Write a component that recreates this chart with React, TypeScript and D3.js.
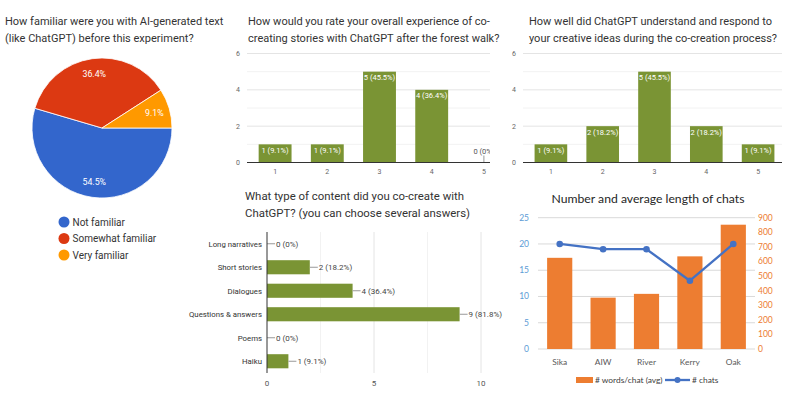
import React from 'react';
import * as d3 from 'd3';

const familiarityLabels = ['Not familiar', 'Somewhat familiar', 'Very familiar'];
const familiarityValues = [6, 4, 1];
const familiarityColors = ['#3366cc', '#dc3912', '#ff9900'];

const ratingCategories = ['1', '2', '3', '4', '5'];
const experienceValues = [1, 1, 5, 4, 0];
const understandingValues = [1, 2, 5, 2, 1];
const ratingTicks = [0, 2, 4, 6];

const contentCategories = ['Long narratives', 'Short stories', 'Dialogues', 'Questions & answers', 'Poems', 'Haiku'];
const contentValues = [0, 2, 4, 9, 0, 1];
const contentTicks = [0, 5, 10];

const respondents = 11;

const chatNames = ['Sika', 'AIW', 'River', 'Kerry', 'Oak'];
const wordsPerChat = [625, 352, 378, 635, 852];
const chatCounts = [20, 19, 19, 13, 20];
const chatCountTicks = [0, 5, 10, 15, 20, 25];
const wordTicks = [0, 100, 200, 300, 400, 500, 600, 700, 800, 900];

const GREEN = '#7a9434';
const GF = 'Roboto, Arial, sans-serif';
const XL = 'Lato, "Open Sans", sans-serif';

const pct = (v: number) => {
  const p = (v / respondents) * 100;
  return v === 0 ? '0%' : `${p.toFixed(1)}%`;
};

function PieChart() {
  const cx = 102, cy = 128, r = 70;
  const pie = d3.pie<number>().sort(null).startAngle(Math.PI / 2).endAngle(Math.PI / 2 + 2 * Math.PI);
  const arcs = pie(familiarityValues);
  const arc = d3.arc<d3.PieArcDatum<number>>().innerRadius(0).outerRadius(r);
  const total = d3.sum(familiarityValues);
  return (
    <g>
      <text x={5} y={25} fontFamily={GF} fontSize={11} fill="#333">How familiar were you with AI-generated text</text>
      <text x={5} y={42} fontFamily={GF} fontSize={11} fill="#333">(like ChatGPT) before this experiment?</text>
      <g transform={`translate(${cx},${cy})`}>
        {arcs.map((a, i) => (
          <path key={i} d={arc(a) || ''} fill={familiarityColors[i]} stroke="#fff" strokeWidth={0.8} />
        ))}
        {arcs.map((a, i) => {
          const mid = (a.startAngle + a.endAngle) / 2;
          const rr = r * 0.78;
          const x = Math.sin(mid) * rr;
          const y = -Math.cos(mid) * rr;
          return (
            <text key={i} x={x} y={y + 3} textAnchor="middle" fontFamily={GF} fontSize={8.8} fill="#fff">
              {`${((a.value / total) * 100).toFixed(1)}%`}
            </text>
          );
        })}
      </g>
      {familiarityLabels.map((l, i) => (
        <g key={l}>
          <circle cx={64} cy={222 + i * 16.5} r={5.5} fill={familiarityColors[i]} />
          <text x={72.5} y={225.5 + i * 16.5} fontFamily={GF} fontSize={10} fill="#333">{l}</text>
        </g>
      ))}
    </g>
  );
}

function VBar(props: {
  id: string; title: string[]; titleX: number; values: number[];
  left: number; right: number; bandStart: number; bandEnd: number; clipRight: number;
}) {
  const { id, title, titleX, values, left, right, bandStart, bandEnd, clipRight } = props;
  const y = d3.scaleLinear().domain([0, 6]).range([162.5, 53.5]);
  const x = d3.scaleBand().domain(ratingCategories).range([bandStart, bandEnd]).paddingInner(0.37).paddingOuter(0.185);
  const minor = [1, 3, 5];
  return (
    <g>
      <defs>
        <clipPath id={id}><rect x={left - 30} y={40} width={clipRight - left + 30} height={140} /></clipPath>
      </defs>
      {title.map((t, i) => (
        <text key={i} x={titleX} y={25 + i * 17} fontFamily={GF} fontSize={11} fill="#333">{t}</text>
      ))}
      <g clipPath={`url(#${id})`}>
        {minor.map(t => (
          <line key={'m' + t} x1={left} x2={right} y1={y(t)} y2={y(t)} stroke="#f2f2f2" />
        ))}
        {ratingTicks.filter(t => t > 0).map(t => (
          <line key={t} x1={left} x2={right} y1={y(t)} y2={y(t)} stroke="#e4e4e4" />
        ))}
        {ratingTicks.map(t => (
          <text key={'l' + t} x={left - 7} y={y(t) + 2.5} textAnchor="end" fontFamily={GF} fontSize={7} fill="#666">{t}</text>
        ))}
        {values.map((v, i) => {
          const c = ratingCategories[i];
          const bx = x(c)!;
          const bw = x.bandwidth();
          if (v === 0) {
            const mx = bx + bw / 2;
            return (
              <g key={c}>
                <line x1={mx} x2={mx} y1={y(0)} y2={y(0) - 7} stroke="#999" />
                <text x={mx} y={y(0) - 8.5} textAnchor="middle" fontFamily={GF} fontSize={7.5} fill="#555">{`0 (${pct(0)})`}</text>
              </g>
            );
          }
          return (
            <g key={c}>
              <rect x={bx} y={y(v)} width={bw} height={y(0) - y(v)} fill={GREEN} />
              <text x={bx + bw / 2} y={y(v) + 8.5} textAnchor="middle" fontFamily={GF} fontSize={7.5} fill="#fff">{`${v} (${pct(v)})`}</text>
            </g>
          );
        })}
        <line x1={left} x2={right} y1={y(0)} y2={y(0)} stroke="#333" strokeWidth={1} />
        {ratingCategories.map(c => (
          <text key={'x' + c} x={x(c)! + x.bandwidth() / 2} y={174} textAnchor="middle" fontFamily={GF} fontSize={7} fill="#666">{c}</text>
        ))}
      </g>
    </g>
  );
}

function HBar() {
  const x = d3.scaleLinear().domain([0, 10]).range([267, 481]);
  const y = d3.scaleBand().domain(contentCategories).range([232, 373]).paddingInner(0.4).paddingOuter(0.2);
  const grid = [2.5, 5, 7.5, 10];
  return (
    <g>
      <text x={245} y={200} fontFamily={GF} fontSize={11.4} fill="#333">What type of content did you co-create with</text>
      <text x={245} y={217} fontFamily={GF} fontSize={11.4} fill="#333">ChatGPT? (you can choose several answers)</text>
      {grid.map(g => (
        <line key={g} x1={x(g)} x2={x(g)} y1={232} y2={373} stroke={g === 5 || g === 10 ? '#e4e4e4' : '#f2f2f2'} />
      ))}
      {contentCategories.map((c, i) => {
        const v = contentValues[i];
        const by = y(c)!;
        const bh = y.bandwidth();
        const end = x(v);
        const my = by + bh / 2;
        return (
          <g key={c}>
            <text x={262} y={my + 3} textAnchor="end" fontFamily={GF} fontSize={7.8} fill="#333">{c}</text>
            {v > 0 && <rect x={x(0)} y={by} width={end - x(0)} height={bh} fill={GREEN} />}
            <line x1={end} x2={end + 8} y1={my} y2={my} stroke="#999" />
            <text x={end + 9} y={my + 3} fontFamily={GF} fontSize={8} fill="#444">{`${v} (${pct(v)})`}</text>
          </g>
        );
      })}
      <line x1={x(0)} x2={x(0)} y1={232} y2={373} stroke="#333" />
      {contentTicks.map(t => (
        <text key={t} x={x(t)} y={386} textAnchor="middle" fontFamily={GF} fontSize={8} fill="#555">{t}</text>
      ))}
    </g>
  );
}

function Combo() {
  const x = d3.scaleBand().domain(chatNames).range([538, 755]).paddingInner(0.42).paddingOuter(0.21);
  const yL = d3.scaleLinear().domain([0, 25]).range([349, 217.7]);
  const yR = d3.scaleLinear().domain([0, 900]).range([349, 217.7]);
  const line = d3.line<number>().x((_, i) => x(chatNames[i])! + x.bandwidth() / 2).y(d => yL(d));
  return (
    <g>
      <text x={648} y={203} textAnchor="middle" fontFamily={XL} fontSize={12.2} fill="#262626">Number and average length of chats</text>
      {chatCountTicks.map(t => (
        <g key={t}>
          <line x1={538} x2={755} y1={yL(t)} y2={yL(t)} stroke="#d9d9d9" />
          <text x={529} y={yL(t) + 3} textAnchor="end" fontFamily={XL} fontSize={8.5} fill="#5b9bd5">{t}</text>
        </g>
      ))}
      {wordTicks.map(t => (
        <text key={t} x={758} y={yR(t) + 3} fontFamily={XL} fontSize={8.5} fill="#ed7d31">{t}</text>
      ))}
      {chatNames.map((n, i) => (
        <rect key={n} x={x(n)!} y={yR(wordsPerChat[i])} width={x.bandwidth()} height={yR(0) - yR(wordsPerChat[i])} fill="#ed7d31" />
      ))}
      <path d={line(chatCounts) || ''} fill="none" stroke="#4472c4" strokeWidth={2.3} strokeLinejoin="round" />
      {chatCounts.map((c, i) => (
        <circle key={i} cx={x(chatNames[i])! + x.bandwidth() / 2} cy={yL(c)} r={3.3} fill="#4472c4" />
      ))}
      {chatNames.map(n => (
        <text key={n} x={x(n)! + x.bandwidth() / 2} y={365} textAnchor="middle" fontFamily={XL} fontSize={8.4} fill="#595959">{n}</text>
      ))}
      <rect x={576} y={377} width={17} height={6} fill="#ed7d31" />
      <text x={595} y={383} fontFamily={XL} fontSize={8.4} fill="#404040"># words/chat (avg)</text>
      <line x1={665} x2={690} y1={380} y2={380} stroke="#4472c4" strokeWidth={2.3} />
      <circle cx={677.5} cy={380} r={3} fill="#4472c4" />
      <text x={692} y={383} fontFamily={XL} fontSize={8.4} fill="#404040"># chats</text>
    </g>
  );
}

export default function App() {
  return (
    <div style={{ position: 'fixed', left: 0, top: 0 }}>
      <svg width={789} height={398} style={{ display: 'block', background: '#fff' }}>
        <rect width={789} height={398} fill="#fff" />
        <PieChart />
        <VBar id="c1" title={['How would you rate your overall experience of co-', 'creating stories with ChatGPT after the forest walk?']}
          titleX={248} values={experienceValues} left={247} right={510} bandStart={249} bandEnd={510} clipRight={490} />
        <VBar id="c2" title={['How well did ChatGPT understand and respond to', 'your creative ideas during the co-creation process?']}
          titleX={529} values={understandingValues} left={523} right={782} bandStart={525} bandEnd={784} clipRight={789} />
        <HBar />
        <Combo />
      </svg>
    </div>
  );
}
